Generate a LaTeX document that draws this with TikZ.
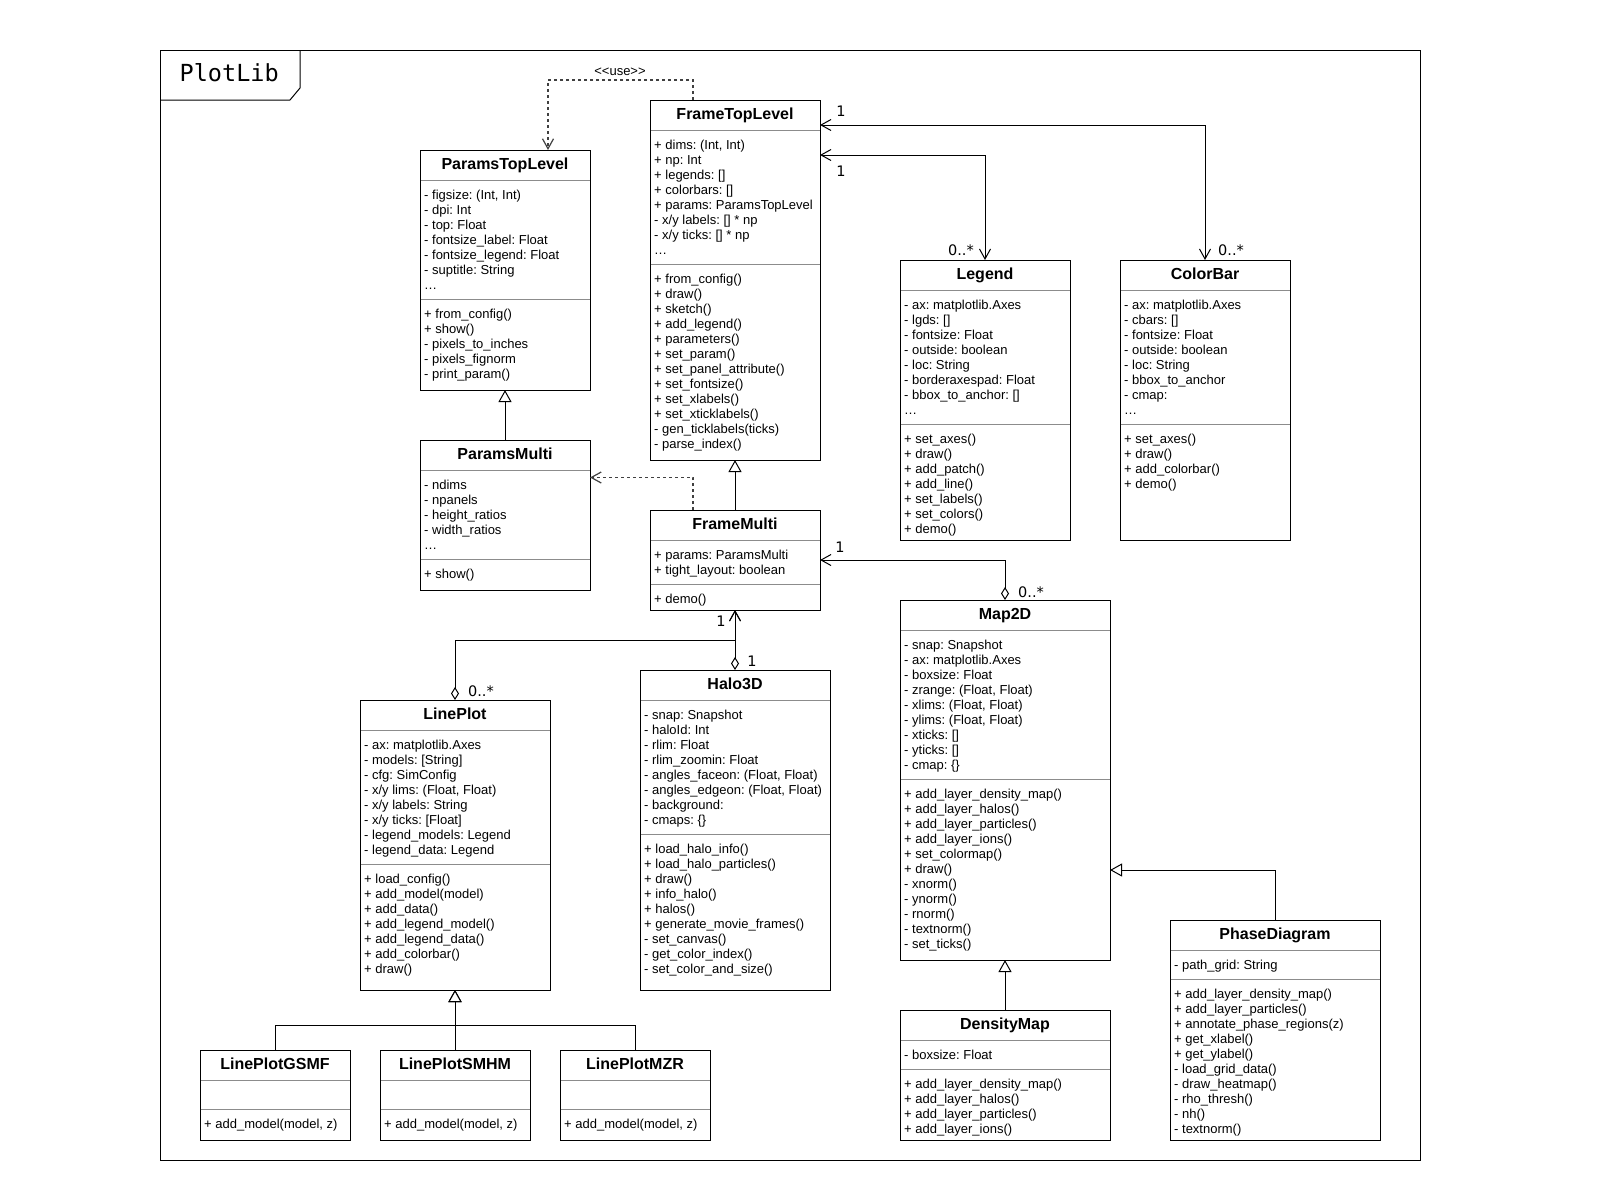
\documentclass[tikz,border=0pt]{standalone}
\usepackage{fontspec}
\setmainfont{Liberation Sans}
\newfontfamily\lsans{Liberation Sans}
\newfontfamily\dmono{DejaVu Sans Mono}
\newfontfamily\dsans{DejaVu Sans}
\usetikzlibrary{arrows.meta}
\frenchspacing

\tikzset{
  classbox/.style={draw, line width=1pt, inner sep=0pt, outer sep=0pt, fill=white},
  sepline/.style={draw=black!45, line width=1pt},
  titletext/.style={font=\frenchspacing\fontsize{16}{19}\selectfont\bfseries, inner sep=0pt},
  linetext/.style={font=\frenchspacing\fontsize{13}{15}\selectfont, inner sep=0pt},
  mult/.style={font=\dsans\fontsize{14.5}{16}\selectfont, inner sep=0pt},
  stereo/.style={font=\lsans\fontsize{13}{15}\selectfont, inner sep=0pt},
  vopen/.tip={Straight Barb[length=10pt,width=11pt]},
  htri/.tip={Triangle[length=12pt,width=13pt,fill=white]},
  hdia/.tip={Diamond[length=13pt,width=8pt,fill=white]},
  conn/.style={line width=1pt, draw=black},
  inh/.style={conn, -htri},
  dep/.style={conn, draw=black!75, line width=1.2pt, dash pattern=on 3pt off 3pt, -vopen},
  nav/.style={conn, vopen-vopen},
  aggr/.style={conn, hdia-vopen},
}

\newcommand{\umlclass}[8]{%
  \pgfmathsetmacro\cw{#4-#2}%
  \pgfmathsetmacro\ch{#5-#3}%
  \node[classbox, minimum width=\cw pt, minimum height=\ch pt, anchor=north west] (#1) at (#2,#3) {};
  \draw[sepline] ({#2+0.5},#6) -- ({#4-0.5},#6);
  \draw[sepline] ({#2+0.5},#7) -- ({#4-0.5},#7);
  \node[titletext, anchor=base] (#1-title) at ({(#2+#4)/2},{#3+19}) {#8};
}

\newcommand{\umllines}[4]{%
  \foreach \t [count=\i from 0] in {#4}{%
    \pgfmathsetmacro\yy{#3+15*\i}%
    \node[linetext, anchor=base west] (#1\i) at (#2,\yy) {\t};
  }%
}

\begin{document}
\begin{tikzpicture}[x=1pt, y=-1pt]
\useasboundingbox (0,0) rectangle (1600,1200);

% package frame
\node[draw, line width=1pt, inner sep=0pt, outer sep=0pt, minimum width=1260pt, minimum height=1110pt, anchor=north west] (pkg) at (160,50) {};
\draw[conn] ([yshift=-50pt]pkg.north west) -- ++(130,0) -- ++(10,-12) -- ([xshift=140pt]pkg.north west);
\node[font=\dmono\fontsize{23.5}{27}\selectfont, anchor=base west, inner sep=0pt] (pkgname) at (179.5,81) {PlotLib};

% ParamsTopLevel
\umlclass{ptl}{420}{150}{590}{390}{180}{299}{ParamsTopLevel}
\umllines{ptl-a}{424}{199}{{- figsize: (Int, Int)},{- dpi: Int},{- top: Float},{- fontsize\_label: Float},{- fontsize\_legend: Float},{- suptitle: String},{\ldots}}
\umllines{ptl-m}{424}{318}{{+ from\_config()},{+ show()},{- pixels\_to\_inches},{- pixels\_fignorm},{- print\_param()}}

% FrameTopLevel
\umlclass{ftl}{650}{100}{820}{460}{130}{264}{FrameTopLevel}
\umllines{ftl-a}{654}{149}{{+ dims: (Int, Int)},{+ np: Int},{+ legends: []},{+ colorbars: []},{+ params: ParamsTopLevel},{- x/y labels: [] * np},{- x/y ticks: [] * np},{\ldots}}
\umllines{ftl-m}{654}{283}{{+ from\_config()},{+ draw()},{+ sketch()},{+ add\_legend()},{+ parameters()},{+ set\_param()},{+ set\_panel\_attribute()},{+ set\_fontsize()},{+ set\_xlabels()},{+ set\_xticklabels()},{- gen\_ticklabels(ticks)},{- parse\_index()}}

% Legend
\umlclass{lg}{900}{260}{1070}{540}{290}{424}{Legend}
\umllines{lg-a}{904}{309}{{- ax: matplotlib.Axes},{- lgds: []},{- fontsize: Float},{- outside: boolean},{- loc: String},{- borderaxespad: Float},{- bbox\_to\_anchor: []},{\ldots}}
\umllines{lg-m}{904}{443}{{+ set\_axes()},{+ draw()},{+ add\_patch()},{+ add\_line()},{+ set\_labels()},{+ set\_colors()},{+ demo()}}

% ColorBar
\umlclass{cb}{1120}{260}{1290}{540}{290}{424}{ColorBar}
\umllines{cb-a}{1124}{309}{{- ax: matplotlib.Axes},{- cbars: []},{- fontsize: Float},{- outside: boolean},{- loc: String},{- bbox\_to\_anchor},{- cmap:},{\ldots}}
\umllines{cb-m}{1124}{443}{{+ set\_axes()},{+ draw()},{+ add\_colorbar()},{+ demo()}}

% ParamsMulti
\umlclass{pm}{420}{440}{590}{590}{470}{559}{ParamsMulti}
\umllines{pm-a}{424}{489}{{- ndims},{- npanels},{- height\_ratios},{- width\_ratios},{\ldots}}
\umllines{pm-m}{424}{578}{{+ show()}}

% FrameMulti
\umlclass{fm}{650}{510}{820}{610}{540}{584}{FrameMulti}
\umllines{fm-a}{654}{559}{{+ params: ParamsMulti},{+ tight\_layout: boolean}}
\umllines{fm-m}{654}{603}{{+ demo()}}

% Map2D
\umlclass{m2d}{900}{600}{1110}{960}{630}{779}{Map2D}
\umllines{m2d-a}{904}{649}{{- snap: Snapshot},{- ax: matplotlib.Axes},{- boxsize: Float},{- zrange: (Float, Float)},{- xlims: (Float, Float)},{- ylims: (Float, Float)},{- xticks: []},{- yticks: []},{- cmap: \{\}}}
\umllines{m2d-m}{904}{798}{{+ add\_layer\_density\_map()},{+ add\_layer\_halos()},{+ add\_layer\_particles()},{+ add\_layer\_ions()},{+ set\_colormap()},{+ draw()},{- xnorm()},{- ynorm()},{- rnorm()},{- textnorm()},{- set\_ticks()}}

% Halo3D
\umlclass{h3d}{640}{670}{830}{990}{700}{834}{Halo3D}
\umllines{h3d-a}{644}{719}{{- snap: Snapshot},{- haloId: Int},{- rlim: Float},{- rlim\_zoomin: Float},{- angles\_faceon: (Float, Float)},{- angles\_edgeon: (Float, Float)},{- background:},{- cmaps: \{\}}}
\umllines{h3d-m}{644}{853}{{+ load\_halo\_info()},{+ load\_halo\_particles()},{+ draw()},{+ info\_halo()},{+ halos()},{+ generate\_movie\_frames()},{- set\_canvas()},{- get\_color\_index()},{- set\_color\_and\_size()}}

% LinePlot
\umlclass{lp}{360}{700}{550}{990}{730}{864}{LinePlot}
\umllines{lp-a}{364}{749}{{- ax: matplotlib.Axes},{- models: [String]},{- cfg: SimConfig},{- x/y lims: (Float, Float)},{- x/y labels: String},{- x/y ticks: [Float]},{- legend\_models: Legend},{- legend\_data: Legend}}
\umllines{lp-m}{364}{883}{{+ load\_config()},{+ add\_model(model)},{+ add\_data()},{+ add\_legend\_model()},{+ add\_legend\_data()},{+ add\_colorbar()},{+ draw()}}

% LinePlot subclasses
\umlclass{gsmf}{200}{1050}{350}{1140}{1080}{1109}{LinePlotGSMF}
\umllines{gsmf-m}{204}{1128}{{+ add\_model(model, z)}}
\umlclass{smhm}{380}{1050}{530}{1140}{1080}{1109}{LinePlotSMHM}
\umllines{smhm-m}{384}{1128}{{+ add\_model(model, z)}}
\umlclass{mzr}{560}{1050}{710}{1140}{1080}{1109}{LinePlotMZR}
\umllines{mzr-m}{564}{1128}{{+ add\_model(model, z)}}

% DensityMap
\umlclass{dm}{900}{1010}{1110}{1140}{1040}{1069}{DensityMap}
\umllines{dm-a}{904}{1059}{{- boxsize: Float}}
\umllines{dm-m}{904}{1088}{{+ add\_layer\_density\_map()},{+ add\_layer\_halos()},{+ add\_layer\_particles()},{+ add\_layer\_ions()}}

% PhaseDiagram
\umlclass{pd}{1170}{920}{1380}{1140}{950}{979}{PhaseDiagram}
\umllines{pd-a}{1174}{969}{{- path\_grid: String}}
\umllines{pd-m}{1174}{998}{{+ add\_layer\_density\_map()},{+ add\_layer\_particles()},{+ annotate\_phase\_regions(z)},{+ get\_xlabel()},{+ get\_ylabel()},{- load\_grid\_data()},{- draw\_heatmap()},{- rho\_thresh()},{- nh()},{- textnorm()}}

% connectors
\draw[dep] ([xshift=-42pt]ftl.north) -- ++(0,-20) -| ([xshift=43pt]ptl.north);
\node[stereo] (uselbl) at (620,72) {<\kern0pt<use>\kern0pt>};

\draw[nav] (cb.north) |- ([yshift=-25pt]ftl.north east);
\draw[nav] (lg.north) |- ([yshift=-55pt]ftl.north east);

\draw[inh] (pm.north) -- (ptl.south);
\draw[inh] (fm.north) -- (ftl.south);
\draw[dep] ([xshift=-42pt]fm.north) |- ([yshift=-37.5pt]pm.north east);

\draw[aggr] (m2d.north) |- ([yshift=-50pt]fm.north east);
\draw[aggr] (h3d.north) -- (fm.south);
\draw[aggr] (lp.north) -- ++(0,-60) -| (fm.south);

\draw[inh] (pd.north) |- ([yshift=-270pt]m2d.north east);
\draw[inh] (dm.north) -- (m2d.south);

\draw[inh] (gsmf.north) -- ++(0,-25) -| (lp.south);
\draw[inh] (smhm.north) -- (lp.south);
\draw[inh] (mzr.north) -- ++(0,-25) -| (lp.south);

% multiplicities
\node[mult] (mu1) at (841,111) {1};
\node[mult] (mu2) at (841,171) {1};
\node[mult] (mu3) at (961,250) {0..*};
\node[mult] (mu4) at (1231,250) {0..*};
\node[mult] (mu5) at (840,547) {1};
\node[mult] (mu6) at (1031,592) {0..*};
\node[mult] (mu7) at (721,621) {1};
\node[mult] (mu8) at (752,661.5) {1};
\node[mult] (mu9) at (481,691) {0..*};
\end{tikzpicture}
\end{document}
